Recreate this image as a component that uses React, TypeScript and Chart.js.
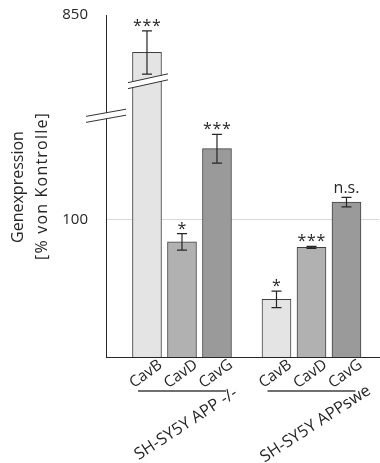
import { useEffect, useRef } from 'react';
import { Chart, registerables, LinearScale } from 'chart.js';

// Cell lines (groups) and caveolin isoforms (bars within a group)
const GROUPS = ['SH-SY5Y APP -/-', 'SH-SY5Y APPswe'];
const ISOFORMS = ['CavB', 'CavD', 'CavG'];

// Gene expression in % of control, with error bars and significance marks
const APP_KO_VALUES = [720, 84, 152];
const APP_KO_ERRORS = [75, 6, 10.5];
const APP_KO_SIGNIF = ['***', '*', '***'];

const APPSWE_VALUES = [42, 80, 113];
const APPSWE_ERRORS = [6, 0.7, 3.5];
const APPSWE_SIGNIF = ['*', '***', 'n.s.'];

// Broken value axis: 0..BREAK_LOW below the break, BREAK_HIGH..AXIS_MAX above it
const Y_TICKS = [100, 850];
const AXIS_MAX = 850;
const BREAK_LOW = 176;
const BREAK_HIGH = 500;
const BAR_BREAK_VALUE = 620;

const Y_TITLE = ['Genexpression', '[% von Kontrolle]'];

// Share of the axis height used by the lower segment
const LOWER_SHARE = 0.7053;
const ISO_COLORS = ['#e4e4e4', '#b1b1b1', '#9a9a9a'];
const GROUP_STRIDE = 3.7;
const X_MIN = -1.171;
const X_MAX = 6.629;
const FONT = "'Open Sans', 'Noto Sans', sans-serif";

class BrokenLinearScale extends LinearScale {
  static id = 'brokenLinear';
  static defaults = LinearScale.defaults;

  getPixelForValue(value: any) {
    if (value === null || value === undefined || isNaN(value)) return NaN;
    const min = this.min;
    const max = this.max;
    let dec: number;
    if (value <= BREAK_LOW) dec = ((value - min) / (BREAK_LOW - min)) * LOWER_SHARE;
    else if (value >= BREAK_HIGH)
      dec = LOWER_SHARE + ((value - BREAK_HIGH) / (max - BREAK_HIGH)) * (1 - LOWER_SHARE);
    else dec = LOWER_SHARE;
    return this.getPixelForDecimal(dec);
  }

  getValueForPixel(pixel: number) {
    const dec = this.getDecimalForPixel(pixel);
    if (dec <= LOWER_SHARE) return this.min + (dec / LOWER_SHARE) * (BREAK_LOW - this.min);
    return BREAK_HIGH + ((dec - LOWER_SHARE) / (1 - LOWER_SHARE)) * (this.max - BREAK_HIGH);
  }

  buildTicks() {
    return Y_TICKS.map((value) => ({ value }));
  }
}

Chart.register(...registerables);
Chart.register(BrokenLinearScale as any);

type Bar = { group: number; iso: number; pos: number; value: number; err: number; sig: string };

const BARS: Bar[] = [];
[
  [APP_KO_VALUES, APP_KO_ERRORS, APP_KO_SIGNIF],
  [APPSWE_VALUES, APPSWE_ERRORS, APPSWE_SIGNIF],
].forEach(([vals, errs, sigs]: any, g) => {
  ISOFORMS.forEach((_, i) => {
    BARS.push({ group: g, iso: i, pos: g * GROUP_STRIDE + i, value: vals[i], err: errs[i], sig: sigs[i] });
  });
});

const annotations = {
  id: 'annotations',
  afterDatasetsDraw(chart: any) {
    const { ctx, chartArea } = chart;
    const xs = chart.scales.x;
    const ys = chart.scales.y;
    ctx.save();

    const drawBreak = (cx: number, cy: number, halfW: number, slope: number) => {
      const gap = 6;
      const yAt = (x: number, off: number) => cy + slope * (x - cx) + off;
      const x0 = cx - halfW;
      const x1 = cx + halfW;
      ctx.beginPath();
      ctx.moveTo(x0, yAt(x0, -gap / 2));
      ctx.lineTo(x1, yAt(x1, -gap / 2));
      ctx.lineTo(x1, yAt(x1, gap / 2));
      ctx.lineTo(x0, yAt(x0, gap / 2));
      ctx.closePath();
      ctx.fillStyle = '#ffffff';
      ctx.fill();
      ctx.beginPath();
      ctx.moveTo(x0, yAt(x0, -gap / 2));
      ctx.lineTo(x1, yAt(x1, -gap / 2));
      ctx.moveTo(x0, yAt(x0, gap / 2));
      ctx.lineTo(x1, yAt(x1, gap / 2));
      ctx.strokeStyle = '#333333';
      ctx.lineWidth = 1;
      ctx.stroke();
    };

    // break marks on the value axis and across bars taller than the break
    drawBreak(chartArea.left, ys.getPixelForValue(BREAK_LOW), 20, -0.18);
    BARS.forEach((b) => {
      if (b.value > BREAK_HIGH)
        drawBreak(xs.getPixelForValue(b.pos) + 1, ys.getPixelForValue(BAR_BREAK_VALUE), 20, -0.22);
    });

    // error bars
    ctx.strokeStyle = '#262626';
    ctx.lineWidth = 1.2;
    BARS.forEach((b) => {
      const x = xs.getPixelForValue(b.pos);
      const yTop = ys.getPixelForValue(b.value + b.err);
      const yBot = ys.getPixelForValue(b.value - b.err);
      ctx.beginPath();
      ctx.moveTo(x, yTop);
      ctx.lineTo(x, yBot);
      ctx.moveTo(x - 5, yTop);
      ctx.lineTo(x + 5, yTop);
      ctx.moveTo(x - 5, yBot);
      ctx.lineTo(x + 5, yBot);
      ctx.stroke();
    });

    // significance marks
    ctx.fillStyle = '#262626';
    ctx.font = `16px ${FONT}`;
    ctx.textBaseline = 'alphabetic';
    ctx.textAlign = 'center';
    BARS.forEach((b) => {
      const x = xs.getPixelForValue(b.pos);
      const yTop = ys.getPixelForValue(b.value + b.err);
      const m = ctx.measureText(b.sig);
      const base = yTop - 4 - m.actualBoundingBoxDescent;
      if (/^\*+$/.test(b.sig)) {
        const n = b.sig.length;
        for (let k = 0; k < n; k++) ctx.fillText('*', x + (k - (n - 1) / 2) * 9.5, base);
      } else {
        ctx.fillText(b.sig, x, base);
      }
    });

    // isoform labels under each bar
    ctx.font = `15.5px ${FONT}`;
    ctx.textBaseline = 'middle';
    BARS.forEach((b) => {
      const x = xs.getPixelForValue(b.pos) - 1;
      ctx.save();
      ctx.translate(x, chartArea.bottom + 17);
      ctx.rotate((-36 * Math.PI) / 180);
      ctx.fillText(ISOFORMS[b.iso], 0, 0);
      ctx.restore();
    });

    // group brackets and cell line labels
    ctx.font = `16.5px ${FONT}`;
    GROUPS.forEach((name, g) => {
      const members = BARS.filter((b) => b.group === g);
      const first = xs.getPixelForValue(members[0].pos);
      const last = xs.getPixelForValue(members[members.length - 1].pos);
      const lineY = chartArea.bottom + 34;
      ctx.beginPath();
      ctx.moveTo(first - 9, lineY);
      ctx.lineTo(last + 9, lineY);
      ctx.strokeStyle = '#404040';
      ctx.lineWidth = 1.3;
      ctx.stroke();
      ctx.save();
      ctx.translate((first + last) / 2 + 4, chartArea.bottom + 67);
      ctx.rotate((-33 * Math.PI) / 180);
      ctx.fillText(name, 0, 0);
      ctx.restore();
    });

    // value axis title
    ctx.font = `16px ${FONT}`;
    const titleX = [18, 42];
    const titleY = [187, 186];
    const titleSpacing = ['0px', '1.2px'];
    Y_TITLE.forEach((line, i) => {
      ctx.save();
      ctx.letterSpacing = titleSpacing[i];
      ctx.translate(titleX[i], titleY[i]);
      ctx.rotate(-Math.PI / 2);
      ctx.fillText(line, 0, 0);
      ctx.restore();
    });

    ctx.restore();
  },
};

export default function App() {
  const canvasRef = useRef<HTMLCanvasElement | null>(null);

  useEffect(() => {
    if (!canvasRef.current) return;
    const chart = new Chart(canvasRef.current, {
      type: 'bar',
      data: {
        datasets: [
          {
            data: BARS.map((b) => ({ x: b.pos, y: b.value })),
            backgroundColor: BARS.map((b) => ISO_COLORS[b.iso]),
            borderColor: '#404040',
            borderWidth: 1,
            barThickness: 29,
          },
        ],
      },
      options: {
        animation: false,
        responsive: true,
        maintainAspectRatio: false,
        layout: { padding: { top: 15, right: 1, left: 0, bottom: 0 } },
        font: { family: FONT },
        plugins: { legend: { display: false }, tooltip: { enabled: false } },
        scales: {
          x: {
            type: 'linear',
            offset: false,
            min: X_MIN,
            max: X_MAX,
            grid: { display: false, drawTicks: false, offset: false },
            border: { display: true, color: '#262626', width: 1 },
            ticks: { display: false },
            afterFit: (s: any) => {
              s.height = 106;
              s.paddingLeft = 0;
              s.paddingRight = 0;
            },
          },
          y: {
            type: 'brokenLinear' as any,
            min: 0,
            max: AXIS_MAX,
            grid: {
              drawTicks: false,
              color: (c: any) => (c.tick && c.tick.value === 100 ? '#d9d9d9' : 'rgba(0,0,0,0)'),
              lineWidth: 1,
            },
            border: { display: true, color: '#262626', width: 1 },
            ticks: {
              padding: 18,
              autoSkip: false,
              color: '#262626',
              font: { family: FONT, size: 15 },
              callback: (v: any) => String(v),
            },
            afterFit: (s: any) => {
              s.width = 106;
              s.paddingTop = 0;
              s.paddingBottom = 0;
            },
          },
        },
      } as any,
      plugins: [annotations],
    });
    return () => chart.destroy();
  }, []);

  return (
    <div style={{ position: 'fixed', left: 0, top: 0, width: 380, height: 463, background: '#fff' }}>
      <canvas ref={canvasRef} />
    </div>
  );
}
